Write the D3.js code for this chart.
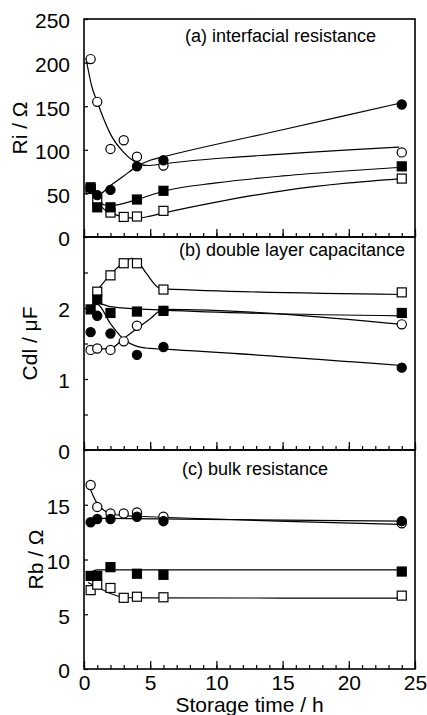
<!DOCTYPE html>
<html>
<head>
<meta charset="utf-8">
<script src="https://d3js.org/d3.v7.min.js"></script>
<style>
body { margin: 0; background: #fff; }
svg { display: block; font-family: "Liberation Sans", Arial, Helvetica, sans-serif; }
</style>
</head>
<body>
<svg id="chart" width="427" height="715"></svg>
<script>
// storage times (h)
var timesOpen = [0.5, 1, 2, 3, 4, 6, 24];
var timesFilled = [0.5, 1, 2, 4, 6, 24];
var timesOpenSqB = [1, 2, 3, 4, 6, 24];

// (a) interfacial resistance, Ri / ohm
var riOpenCircle = [204, 155, 101, 111, 92, 82, 97];
var riFilledCircle = [56, 48, 54, 81, 88, 152];
var riFilledSquare = [57, 34, 34, 43, 53, 81];
var riOpenSquare = [55, 41, 28, 23, 23.5, 30, 67];

// (b) double layer capacitance, Cdl / uF
var cdlOpenSquare = [2.23, 2.46, 2.63, 2.63, 2.26, 2.22];
var cdlFilledSquare = [1.98, 2.12, 1.93, 1.95, 1.96, 1.93];
var cdlFilledCircle = [1.66, 1.89, 1.64, 1.34, 1.45, 1.16];
var cdlOpenCircle = [1.41, 1.43, 1.41, 1.53, 1.75, 1.96, 1.77];

// (c) bulk resistance, Rb / ohm
var rbOpenCircle = [16.8, 14.8, 14.2, 14.2, 14.3, 13.9, 13.3];
var rbFilledCircle = [13.4, 13.7, 13.7, 13.9, 13.5, 13.5];
var rbFilledSquare = [8.5, 8.5, 9.3, 8.7, 8.6, 8.9];
var rbOpenSquare = [7.2, 7.7, 7.4, 6.5, 6.6, 6.55, 6.7];

// hand drawn guide curves, [time, value]
var riFitOpenCircle = [[0.15, 205], [0.6, 172], [1, 155], [1.5, 135], [2, 118], [3, 97], [4, 85], [4.8, 82], [6, 84], [10, 90], [15, 95], [20, 100], [23.8, 103]];
var riFitFilledCircle = [[0.4, 58], [1, 48], [2, 59], [3, 70], [4, 81], [5, 88], [6, 92], [15, 123], [24, 154]];
var riFitFilledSquare = [[0.4, 57], [1, 44], [1.5, 37], [2, 36], [4, 43], [6, 52.5], [10, 62], [15, 70], [20, 76], [24, 80]];
var riFitOpenSquare = [[0.4, 57], [1, 40], [1.5, 32], [2, 28], [3, 23], [4, 21.5], [5, 24], [6, 27.5], [10, 40], [15, 53], [20, 62], [24, 67]];

var cdlFitOpenSquare = [[0.7, 2.18], [1, 2.25], [2, 2.47], [3, 2.64], [3.6, 2.7], [4, 2.67], [4.7, 2.49], [5.6, 2.29], [6, 2.27], [24, 2.19]];
var cdlFitFilledSquare = [[0.3, 2.0], [1, 2.07], [2, 2.02], [6, 1.97], [24, 1.89]];
var cdlFitFilledCircle = [[0.3, 2.0], [1, 2.05], [2, 1.78], [3, 1.56], [4, 1.46], [5, 1.43], [6, 1.42], [24, 1.19]];
var cdlFitOpenCircle = [[0.4, 1.41], [1, 1.42], [2, 1.43], [3, 1.57], [4, 1.71], [5, 1.85], [6, 1.98], [24, 1.77]];

var rbFitOpenCircle = [[0.3, 17.0], [0.7, 15.8], [1, 15.1], [1.5, 14.5], [2, 14.2], [3, 14.0], [4, 13.95], [24, 13.2]];
var rbFitFilledCircle = [[0.4, 13.6], [1, 13.75], [24, 13.5]];
var rbFitFilledSquare = [[0.3, 8.6], [1, 9.05], [24, 9.05]];
var rbFitOpenSquare = [[0.3, 7.9], [1, 7.5], [2, 6.9], [3, 6.55], [4, 6.5], [24, 6.47]];

// axis ticks
var xTicks = [0, 5, 10, 15, 20, 25];
var xMinorTicks = d3.range(0, 26, 1);
var riTicks = [0, 50, 100, 150, 200, 250];
var cdlTicks = [0, 0.5, 1, 1.5, 2, 2.5];
var cdlTickLabels = [0, 1, 2];
var rbTicks = [0, 5, 10, 15];

var svg = d3.select('#chart');
var left = 84, right = 415;

var x = d3.scaleLinear().domain([0, 25]).range([left, right]);

// build the three stacked panels
var panels = [
	{ top: 19, bottom: 237, domain: [0, 250], ticks: riTicks, fmt: function(d) { return d; },
		title: 'Ri / \u03A9', titleX: 27, label: '(a) interfacial resistance', labelX: 185, labelY: 42,
		series: [
			{ t: timesOpen, v: riOpenSquare, fit: riFitOpenSquare, shape: 'square', open: true },
			{ t: timesFilled, v: riFilledSquare, fit: riFitFilledSquare, shape: 'square', open: false },
			{ t: timesOpen, v: riOpenCircle, fit: riFitOpenCircle, shape: 'circle', open: true },
			{ t: timesFilled, v: riFilledCircle, fit: riFitFilledCircle, shape: 'circle', open: false }
		] },
	{ top: 237, bottom: 450, domain: [0, 3], ticks: cdlTicks,
		fmt: function(d) { return cdlTickLabels.indexOf(d) >= 0 ? d : ''; },
		title: 'Cdl / \u03BCF', titleX: 37, label: '(b) double layer capacitance', labelX: 179, labelY: 256,
		series: [
			{ t: timesOpenSqB, v: cdlOpenSquare, fit: cdlFitOpenSquare, shape: 'square', open: true },
			{ t: timesOpen, v: cdlOpenCircle, fit: cdlFitOpenCircle, shape: 'circle', open: true },
			{ t: timesFilled, v: cdlFilledCircle, fit: cdlFitFilledCircle, shape: 'circle', open: false },
			{ t: timesFilled, v: cdlFilledSquare, fit: cdlFitFilledSquare, shape: 'square', open: false }
		] },
	{ top: 450, bottom: 669, domain: [0, 20], ticks: rbTicks, fmt: function(d) { return d; },
		title: 'Rb / \u03A9', titleX: 43, label: '(c) bulk resistance', labelX: 182, labelY: 475,
		series: [
			{ t: timesOpen, v: rbOpenSquare, fit: rbFitOpenSquare, shape: 'square', open: true },
			{ t: timesFilled, v: rbFilledSquare, fit: rbFitFilledSquare, shape: 'square', open: false },
			{ t: timesOpen, v: rbOpenCircle, fit: rbFitOpenCircle, shape: 'circle', open: true },
			{ t: timesFilled, v: rbFilledCircle, fit: rbFitFilledCircle, shape: 'circle', open: false }
		] }
];

panels.forEach(function(p, pi) {
	var y = d3.scaleLinear().domain(p.domain).range([p.bottom, p.top]);
	var g = svg.append('g');

	// bottom ticks, pointing inwards
	g.append('g')
		.attr('transform', 'translate(0,' + p.bottom + ')')
		.call(d3.axisBottom(x).tickValues(xMinorTicks).tickSize(-4).tickFormat(''))
		.call(function(a) { a.select('.domain').remove(); a.selectAll('line').attr('stroke-width', 1.2); });
	var xa = g.append('g')
		.attr('transform', 'translate(0,' + p.bottom + ')')
		.call(d3.axisBottom(x).tickValues(xTicks).tickSize(-8).tickPadding(6)
			.tickFormat(pi === panels.length - 1 ? d3.format('d') : ''));
	xa.select('.domain').remove();
	xa.selectAll('line').attr('stroke-width', 1.2);
	xa.selectAll('text').attr('font-size', 21).attr('dy', '0.71em');
	xa.attr('font-family', null).attr('font-size', null);

	// left ticks, pointing inwards
	var ya = g.append('g')
		.attr('transform', 'translate(' + left + ',0)')
		.call(d3.axisLeft(y).tickValues(p.ticks).tickSize(-4).tickPadding(14).tickFormat(p.fmt));
	ya.select('.domain').remove();
	ya.selectAll('line').attr('stroke-width', 1.2);
	ya.selectAll('text').attr('font-size', 21).attr('dy', '0.42em');
	ya.attr('font-family', null).attr('font-size', null);

	// frame
	g.append('rect')
		.attr('x', left).attr('y', p.top)
		.attr('width', right - left).attr('height', p.bottom - p.top)
		.attr('fill', 'none').attr('stroke', '#000').attr('stroke-width', 1.6);

	// axis title
	g.append('text')
		.attr('transform', 'translate(' + p.titleX + ',' + ((p.top + p.bottom) / 2) + ') rotate(-90)')
		.attr('text-anchor', 'middle')
		.attr('font-size', 21)
		.text(p.title);

	// panel label
	g.append('text')
		.attr('x', p.labelX).attr('y', p.labelY)
		.attr('font-size', 18)
		.text(p.label);

	// guide curves first, markers on top
	var line = d3.line()
		.x(function(d) { return x(d[0]); })
		.y(function(d) { return y(d[1]); })
		.curve(d3.curveMonotoneX);
	p.series.forEach(function(s) {
		g.append('path')
			.attr('d', line(s.fit))
			.attr('fill', 'none').attr('stroke', '#000').attr('stroke-width', 1.2);
	});
	p.series.forEach(function(s) {
		var pts = s.t.map(function(t, i) { return [t, s.v[i]]; });
		var m = g.append('g')
			.attr('fill', s.open ? '#fff' : '#000')
			.attr('stroke', '#000').attr('stroke-width', 1.2);
		if (s.shape === 'circle') {
			m.selectAll('circle').data(pts).enter().append('circle')
				.attr('cx', function(d) { return x(d[0]); })
				.attr('cy', function(d) { return y(d[1]); })
				.attr('r', 4.6);
		} else {
			m.selectAll('rect').data(pts).enter().append('rect')
				.attr('x', function(d) { return x(d[0]) - 4.5; })
				.attr('y', function(d) { return y(d[1]) - 4.5; })
				.attr('width', 9).attr('height', 9);
		}
	});
});

// x axis title
svg.append('text')
	.attr('x', (left + right) / 2).attr('y', 712)
	.attr('text-anchor', 'middle')
	.attr('font-size', 21)
	.text('Storage time / h');
</script>
</body>
</html>
